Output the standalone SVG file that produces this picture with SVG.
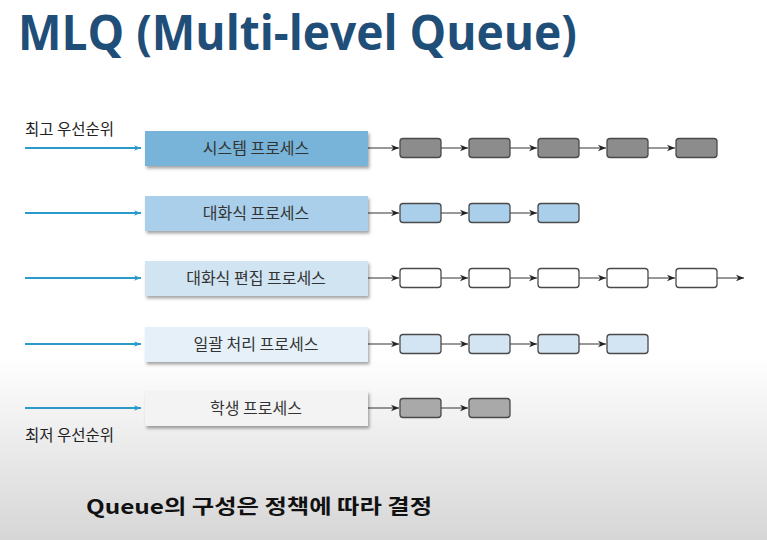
<svg xmlns="http://www.w3.org/2000/svg" width="767" height="540" viewBox="0 0 767 540">
<defs>
<linearGradient id="bg" x1="0" y1="0" x2="0" y2="1">
<stop offset="0" stop-color="#ffffff"/>
<stop offset="0.66" stop-color="#ffffff"/>
<stop offset="1" stop-color="#d6d6d6"/>
</linearGradient>
<filter id="sh" x="-10%" y="-30%" width="125%" height="170%">
<feDropShadow dx="1.5" dy="2.5" stdDeviation="1.5" flood-color="#000" flood-opacity="0.35"/>
</filter>
<marker id="ab" viewBox="0 0 10 10" refX="10" refY="5" markerWidth="7" markerHeight="7" orient="auto" markerUnits="userSpaceOnUse">
<path d="M0,1 L10,5 L0,9 L3,5 z" fill="#2b9acb"/>
</marker>
<marker id="ak" viewBox="0 0 10 10" refX="10" refY="5" markerWidth="8" markerHeight="8" orient="auto" markerUnits="userSpaceOnUse">
<path d="M0,1 L10,5 L0,9 L3,5 z" fill="#222"/>
</marker>
</defs>
<style>
.title{font-family:"Open Sans","Liberation Sans",sans-serif;font-weight:bold;font-size:48px;fill:#1f4e79}
.lbl{font-family:"Noto Sans CJK KR","Noto Sans",sans-serif;font-size:15.5px;fill:#222}
.box{stroke:none;filter:url(#sh)}
.bt{font-family:"Noto Sans CJK KR",sans-serif;font-size:16px;fill:#333;text-anchor:middle}
.q{stroke:#4a4a4a;stroke-width:1.3}
.bl{stroke:#2b9acb;stroke-width:2;fill:none;marker-end:url(#ab)}
.kl{stroke:#333;stroke-width:1;fill:none;marker-end:url(#ak)}
.foot{font-family:"Noto Sans CJK KR",sans-serif;font-weight:bold;font-size:20px;fill:#111}
</style>
<rect x="0" y="0" width="767" height="540" fill="url(#bg)"/>
<text class="title" x="18" y="50" textLength="559" lengthAdjust="spacingAndGlyphs">MLQ (Multi-level Queue)</text>
<text class="lbl" x="25" y="135">최고 우선순위</text>
<text class="lbl" x="25" y="441">최저 우선순위</text>
<g id="connectors">
<path class="bl" d="M25,148 H141"/>
<path class="bl" d="M25,213 H141"/>
<path class="bl" d="M25,278 H141"/>
<path class="bl" d="M25,344 H141"/>
<path class="bl" d="M25,408 H141"/>
<path class="kl" d="M368,148 H399"/><path class="kl" d="M441,148 H468"/><path class="kl" d="M510,148 H537"/><path class="kl" d="M579,148 H606"/><path class="kl" d="M648,148 H675"/>
<path class="kl" d="M368,213 H399"/><path class="kl" d="M441,213 H468"/><path class="kl" d="M510,213 H537"/>
<path class="kl" d="M368,278 H399"/><path class="kl" d="M441,278 H468"/><path class="kl" d="M510,278 H537"/><path class="kl" d="M579,278 H606"/><path class="kl" d="M648,278 H675"/><path class="kl" d="M717,278 H744"/>
<path class="kl" d="M368,344 H399"/><path class="kl" d="M441,344 H468"/><path class="kl" d="M510,344 H537"/><path class="kl" d="M579,344 H606"/>
<path class="kl" d="M368,408 H399"/><path class="kl" d="M441,408 H468"/>
</g>
<g id="n1">
<rect class="box" x="145" y="131" width="223" height="35" fill="#78b4da"/>
<text class="bt" x="256" y="154">시스템 프로세스</text>
</g>
<g id="n2">
<rect class="box" x="145" y="196" width="223" height="35" fill="#a9cfea"/>
<text class="bt" x="256" y="219">대화식 프로세스</text>
</g>
<g id="n3">
<rect class="box" x="145" y="261" width="223" height="35" fill="#d1e4f1"/>
<text class="bt" x="256" y="284">대화식 편집 프로세스</text>
</g>
<g id="n4">
<rect class="box" x="145" y="327" width="223" height="35" fill="#e5f0f8"/>
<text class="bt" x="256" y="350">일괄 처리 프로세스</text>
</g>
<g id="n5">
<rect class="box" x="145" y="391" width="223" height="35" fill="#f3f3f3"/>
<text class="bt" x="256" y="414">학생 프로세스</text>
</g>
<g id="q1" fill="#8c8c8c">
<rect class="q" x="400" y="138.5" width="41" height="19" rx="3"/>
<rect class="q" x="469" y="138.5" width="41" height="19" rx="3"/>
<rect class="q" x="538" y="138.5" width="41" height="19" rx="3"/>
<rect class="q" x="607" y="138.5" width="41" height="19" rx="3"/>
<rect class="q" x="676" y="138.5" width="41" height="19" rx="3"/>
</g>
<g id="q2" fill="#a9cfea">
<rect class="q" x="400" y="203.5" width="41" height="19" rx="3"/>
<rect class="q" x="469" y="203.5" width="41" height="19" rx="3"/>
<rect class="q" x="538" y="203.5" width="41" height="19" rx="3"/>
</g>
<g id="q3" fill="#ffffff">
<rect class="q" x="400" y="268.5" width="41" height="19" rx="3"/>
<rect class="q" x="469" y="268.5" width="41" height="19" rx="3"/>
<rect class="q" x="538" y="268.5" width="41" height="19" rx="3"/>
<rect class="q" x="607" y="268.5" width="41" height="19" rx="3"/>
<rect class="q" x="676" y="268.5" width="41" height="19" rx="3"/>
</g>
<g id="q4" fill="#d3e5f2">
<rect class="q" x="400" y="334.5" width="41" height="19" rx="3"/>
<rect class="q" x="469" y="334.5" width="41" height="19" rx="3"/>
<rect class="q" x="538" y="334.5" width="41" height="19" rx="3"/>
<rect class="q" x="607" y="334.5" width="41" height="19" rx="3"/>
</g>
<g id="q5" fill="#a9a9a9">
<rect class="q" x="400" y="398.5" width="41" height="19" rx="3"/>
<rect class="q" x="469" y="398.5" width="41" height="19" rx="3"/>
</g>
<text class="foot" x="86" y="514" textLength="346" lengthAdjust="spacingAndGlyphs">Queue의 구성은 정책에 따라 결정</text>
</svg>
